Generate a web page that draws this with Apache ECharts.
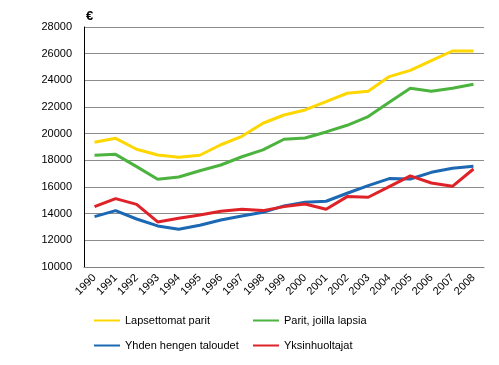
<!DOCTYPE html>
<html><head><meta charset="utf-8">
<script src="https://cdn.jsdelivr.net/npm/echarts@6/dist/echarts.min.js"></script>
<style>html,body{margin:0;padding:0;background:#fff}#c{width:499px;height:365px}</style>
</head><body><div id="c"></div>
<script>
const years = ['1990','1991','1992','1993','1994','1995','1996','1997','1998','1999','2000','2001','2002','2003','2004','2005','2006','2007','2008'];
const lapsettomat = [19350,19650,18830,18400,18230,18380,19170,19800,20780,21400,21780,22400,23030,23180,24280,24750,25480,26200,26200];
const paritLapsia = [18380,18450,17530,16580,16750,17220,17650,18270,18780,19580,19680,20130,20630,21280,22350,23400,23180,23400,23700];
const yhdenHengen = [13780,14230,13600,13080,12830,13130,13520,13830,14100,14580,14850,14930,15530,16100,16630,16600,17100,17400,17550];
const yksinhuoltajat = [14530,15130,14700,13380,13650,13900,14180,14330,14230,14530,14720,14330,15280,15230,16030,16830,16300,16050,17350];
const names = ['Lapsettomat parit','Parit, joilla lapsia','Yhden hengen taloudet','Yksinhuoltajat'];
const colors = ['#FFD700','#4CB33E','#1C68B3','#DF2228'];
const font = 'Liberation Sans, Arial, sans-serif';
const chart = echarts.init(document.getElementById('c'));
const datas = [lapsettomat, paritLapsia, yhdenHengen, yksinhuoltajat];
const legendPos = [[94,315],[253,315],[94,340],[253,340]];
chart.setOption({
  animation:false,
  title:{text:'€',left:81,top:5,textStyle:{fontFamily:font,fontSize:13,fontWeight:'bold',color:'#000'}},
  grid:{left:84,right:15,top:27,bottom:98,containLabel:false},
  legend: names.map((n,i)=>({data:[n],left:legendPos[i][0],top:legendPos[i][1],icon:'rect',itemWidth:26,itemHeight:2,itemGap:3,textStyle:{fontFamily:font,fontSize:11,color:'#000',padding:[0,0,0,0]},padding:0})),
  xAxis:{type:'category',data:years,boundaryGap:true,
    axisLine:{lineStyle:{color:'#808080',width:1}},axisTick:{show:false},
    axisLabel:{rotate:45,margin:9,fontFamily:font,fontSize:11,color:'#000',interval:0}},
  yAxis:{type:'value',min:10000,max:28000,interval:2000,
    axisLine:{show:true,lineStyle:{color:'#000',width:1}},axisTick:{show:false},
    splitLine:{lineStyle:{color:'#8c8c8c',width:1}},
    axisLabel:{margin:12,fontFamily:font,fontSize:11,color:'#000',formatter:v=>String(v)}},
  series: names.map((n,i)=>({name:n,type:'line',data:datas[i],showSymbol:false,symbol:'none',
    lineStyle:{color:colors[i],width:3},itemStyle:{color:colors[i]}}))
});
</script></body></html>
